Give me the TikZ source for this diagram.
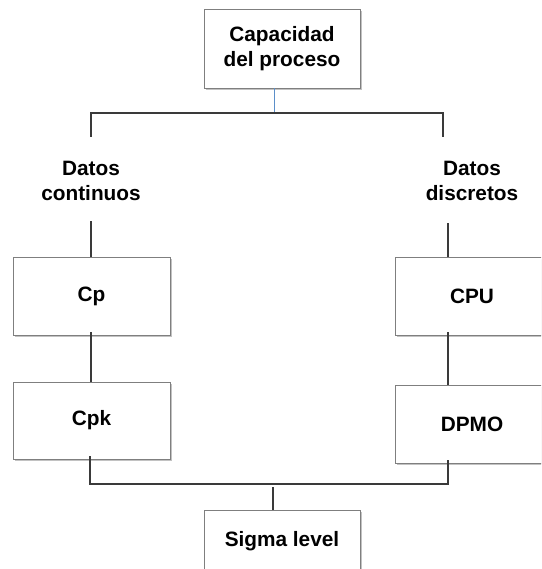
\documentclass[tikz,border=0pt]{standalone}
\usepackage{fontspec}
\setmainfont{Liberation Sans}
\usetikzlibrary{shadows}
\definecolor{boxline}{HTML}{7F7F7F}
\definecolor{linkline}{HTML}{3A3A3A}
\definecolor{bluelink}{HTML}{5B8FC9}
\begin{document}
\begin{tikzpicture}[x=1pt,y=-1pt,
  every node/.style={font=\fontsize{20.8}{25.5}\selectfont\bfseries, align=center, inner sep=0pt},
  procbox/.style={draw=boxline, line width=0.9pt, fill=white,
    drop shadow={shadow xshift=1.8pt, shadow yshift=-1.8pt, opacity=0.4, fill=black!60}},
  link/.style={draw=linkline, line width=2pt},
  thinlink/.style={draw=bluelink, line width=0.8pt}]
  \useasboundingbox (0,0) rectangle (541,569);
  \clip (0,0) rectangle (541,569);

  % boxes
  \node[procbox, minimum width=156pt, minimum height=79pt] (top) at (282,48.5) {Capacidad\\del proceso};
  \node (cont) at (91,181) {Datos\\continuos};
  \node (disc) at (472,181) {Datos\\discretos};
  \node[procbox, minimum width=157pt, minimum height=78pt] (cp) at (91.5,296) {Cp};
  \node[procbox, minimum width=154pt, minimum height=78pt] (cpu) at (472,296) {CPU};
  \node[procbox, minimum width=157pt, minimum height=77pt] (cpk) at (91.5,420.5) {Cpk};
  \node[procbox, minimum width=154pt, minimum height=78pt] (dpmo) at (472,424) {DPMO};
  \node[procbox, minimum width=156pt, minimum height=62pt] (sigma) at (282,541) {Sigma level};

  % branch coordinates
  \coordinate (bustop) at (274,113);
  \coordinate (busl) at (91,113);
  \coordinate (busr) at (443,113);
  \coordinate (contin) at (91,137);
  \coordinate (discin) at (443,137);
  \coordinate (contout) at (91,221);
  \coordinate (discout) at (448,223);
  \coordinate (cpx) at (91,0);
  \coordinate (cpux) at (448,0);
  \coordinate (cpkx) at (90,0);
  \coordinate (busbot) at (0,484);
  \coordinate (sigx) at (273,487);

  % connectors
  \draw[thinlink] (top.south -| bustop) -- (bustop);
  \draw[link] (contin) -- (busl) -- (busr) -- (discin);
  \draw[link] (contout) -- (cp.north -| contout);
  \draw[link] (discout) -- (cpu.north -| discout);
  \draw[link] ([yshift=3pt]cp.south -| cpx) -- (cpk.north -| cpx);
  \draw[link] ([yshift=3pt]cpu.south -| cpux) -- (dpmo.north -| cpux);
  \draw[link] ([yshift=3pt]cpk.south -| cpkx) -- (busbot -| cpkx) -- (busbot -| cpux) -- ([yshift=3pt]dpmo.south -| cpux);
  \draw[link] (sigx) -- (sigma.north -| sigx);
\end{tikzpicture}
\end{document}
